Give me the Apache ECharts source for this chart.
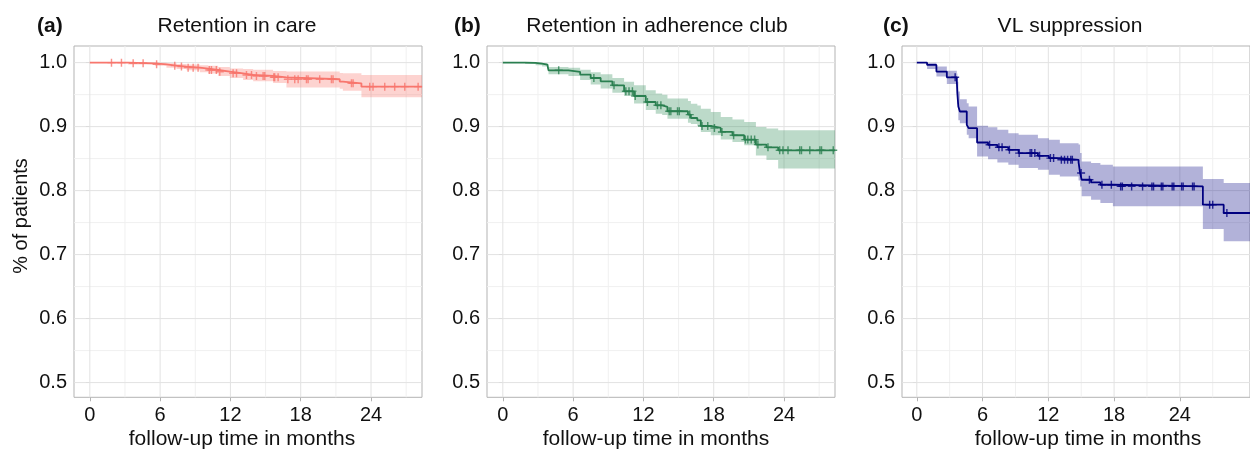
<!DOCTYPE html>
<html><head><meta charset="utf-8">
<script src="https://cdn.jsdelivr.net/npm/echarts@6/dist/echarts.min.js"></script>
<style>html,body{margin:0;padding:0;background:#fff}#c{width:1250px;height:451px}</style>
</head><body><div id="c"></div>
<script>
// ---- tick labels / gridlines ----
const xTicks = [0, 6, 12, 18, 24];
const xMinor = [3, 9, 15, 21, 27];
const yTicks = [0.5, 0.6, 0.7, 0.8, 0.9, 1.0];
const yMinor = [0.55, 0.65, 0.75, 0.85, 0.95];

// ---- (a) Retention in care ----
const careTime  = [0, 3.27, 5.55, 6.54, 7.4, 8.25, 9.39, 10.1, 10.95, 11.95, 13.08, 13.94, 15.64, 16.78, 21.33, 21.6, 23.18];
const careSurv  = [1.0, 0.999, 0.9974, 0.9953, 0.9938, 0.9922, 0.9906, 0.9885, 0.9859, 0.9833, 0.9807, 0.9792, 0.9771, 0.974, 0.9703, 0.9677, 0.9625];
const careUpper = [1.0, 1.0, 1.0, 0.999, 0.998, 0.997, 0.996, 0.995, 0.993, 0.991, 0.990, 0.989, 0.987, 0.986, 0.984, 0.9833, 0.9807];
const careLower = [1.0, 0.997, 0.995, 0.992, 0.990, 0.988, 0.985, 0.983, 0.979, 0.976, 0.973, 0.971, 0.968, 0.961, 0.959, 0.956, 0.9458];
const careCensor = [1.85, 2.7, 3.7, 4.55, 5.7, 7.25, 7.82, 8.39, 8.82, 9.24, 10.2, 10.38, 10.8, 11.09, 12.23, 12.52, 13.37, 13.8, 14.22, 14.79, 14.93, 15.7, 15.78, 16.07, 16.9, 17.49, 17.78, 18.49, 18.63, 19.62, 20.62, 20.76, 22.33, 22.47, 23.89, 24.17, 25.17, 26.02, 26.88, 28.02];

// ---- (b) Retention in adherence club ----
const clubTime  = [0, 1.9, 2.8, 3.35, 3.8, 3.9, 5.6, 6.6, 7.5, 8.35, 9.35, 10.35, 11.2, 12.2, 13.05, 13.6, 14.05, 15.8, 16.05, 16.6, 16.9, 17.75, 18.6, 19.6, 20.6, 21.6, 22.5, 23.5];
const clubSurv  = [1.0, 0.9995, 0.9984, 0.9969, 0.9938, 0.988, 0.9854, 0.9813, 0.976, 0.9708, 0.9646, 0.9552, 0.9479, 0.9385, 0.9333, 0.9307, 0.924, 0.9188, 0.9135, 0.9099, 0.901, 0.898, 0.8917, 0.8865, 0.8797, 0.8719, 0.8677, 0.863];
const clubUpper = [1.0, 1.0, 1.0, 0.999, 0.998, 0.993, 0.992, 0.989, 0.985, 0.982, 0.976, 0.970, 0.9646, 0.9568, 0.9516, 0.950, 0.9438, 0.940, 0.9359, 0.933, 0.9281, 0.923, 0.9151, 0.911, 0.9073, 0.8995, 0.897, 0.8943];
const clubLower = [1.0, 0.998, 0.996, 0.994, 0.990, 0.982, 0.979, 0.973, 0.966, 0.9594, 0.953, 0.9479, 0.936, 0.926, 0.9203, 0.918, 0.9125, 0.906, 0.904, 0.901, 0.8917, 0.8865, 0.880, 0.876, 0.8708, 0.855, 0.848, 0.8344];
const clubCensor = [4.77, 7.77, 9.49, 10.5, 10.77, 11.06, 11.3, 12.34, 13.2, 13.49, 14.2, 14.34, 14.91, 15.06, 15.95, 17.0, 17.49, 18.06, 18.7, 19.7, 20.7, 20.91, 21.2, 21.49, 21.77, 22.63, 23.63, 23.91, 24.34, 25.34, 25.49, 26.2, 27.06, 27.2, 28.2];

// ---- (c) VL suppression ----
const vlTime  = [0, 0.94, 1.79, 2.74, 3.65, 3.70, 3.79, 3.93, 4.56, 4.73, 5.50, 6.50, 7.35, 8.35, 9.29, 11.05, 12.05, 13.05, 14.76, 14.9, 15.04, 15.9, 16.75, 17.89, 26.1, 28.0];
const vlSurv  = [1.0, 0.9964, 0.986, 0.9771, 0.9719, 0.9522, 0.9314, 0.9236, 0.9028, 0.8976, 0.8752, 0.8716, 0.8679, 0.8638, 0.8586, 0.8544, 0.8508, 0.8482, 0.844, 0.8274, 0.817, 0.8128, 0.8092, 0.8066, 0.778, 0.765];
const vlUpper = [1.0, 1.0, 0.9938, 0.9875, 0.983, 0.97, 0.955, 0.9428, 0.9366, 0.9314, 0.9012, 0.899, 0.895, 0.8898, 0.8872, 0.882, 0.8794, 0.8742, 0.872, 0.8586, 0.8456, 0.843, 0.8404, 0.8378, 0.818, 0.8118];
const vlLower = [1.0, 0.99, 0.9782, 0.9667, 0.962, 0.935, 0.91, 0.9054, 0.8872, 0.882, 0.8534, 0.849, 0.844, 0.8404, 0.8352, 0.8326, 0.8248, 0.8222, 0.816, 0.8066, 0.791, 0.7858, 0.7806, 0.7754, 0.74, 0.7207];
const vlCensor = [3.5, 6.64, 7.49, 7.78, 8.45, 9.34, 10.34, 10.48, 10.77, 11.2, 12.19, 12.48, 13.19, 13.48, 13.76, 14.05, 14.19, 14.99, 15.75, 16.89, 17.75, 18.6, 18.75, 19.6, 20.6, 21.45, 21.6, 22.31, 22.45, 23.3, 23.45, 24.16, 24.3, 25.16, 25.3, 26.72, 27.0, 28.29];

const FONT = '"Liberation Sans", Arial, Helvetica, sans-serif';
const X_MIN = -1.35, Y_MIN = 0.477, Y_MAX = 1.026;

const panels = [
  {time: careTime, surv: careSurv, up: careUpper, lo: careLower, cens: careCensor,
   line: '#F8766D', band: 'rgba(248,118,109,0.32)', left: 74, width: 348, xMax: 28.35},
  {time: clubTime, surv: clubSurv, up: clubUpper, lo: clubLower, cens: clubCensor,
   line: '#2A7F50', band: 'rgba(46,139,87,0.32)', left: 487, width: 348, xMax: 28.35},
  {time: vlTime, surv: vlSurv, up: vlUpper, lo: vlLower, cens: vlCensor,
   line: '#000080', band: 'rgba(0,0,128,0.3)', left: 902, width: 372, xMax: 30.4}
];

function survAt(p, t) {
  let v = p.surv[0];
  for (let i = 0; i < p.time.length; i++) if (p.time[i] <= t) v = p.surv[i];
  return v;
}

const grids = [], xAxes = [], yAxes = [], series = [];
panels.forEach((p, i) => {
  grids.push({left: p.left, top: 46, width: p.width, height: 351.3, show: true,
    borderColor: '#b3b3b3', borderWidth: 1, backgroundColor: '#fff'});
  xAxes.push({type: 'value', gridIndex: i, min: X_MIN, max: p.xMax,
    axisLine: {show: false},
    axisTick: {show: true, customValues: xTicks, length: 4, lineStyle: {color: '#b3b3b3'}},
    axisLabel: {customValues: xTicks, margin: 8, fontSize: 20, color: '#111', fontFamily: FONT},
    splitLine: {show: false}});
  yAxes.push({type: 'value', gridIndex: i, min: Y_MIN, max: Y_MAX,
    axisLine: {show: false},
    axisTick: {show: true, customValues: yTicks, length: 4, lineStyle: {color: '#b3b3b3'}},
    axisLabel: {customValues: yTicks, margin: 7, fontSize: 20, color: '#111', fontFamily: FONT,
      formatter: v => v.toFixed(1)},
    splitLine: {show: false}});

  // gridlines
  series.push({type: 'custom', xAxisIndex: i, yAxisIndex: i, z: 1, silent: true, animation: false,
    data: [[0, 0.5]],
    renderItem: (params, api) => {
      const cs = params.coordSys;
      const ch = [];
      const vline = (v, c) => { const x = api.coord([v, 0.5])[0];
        ch.push({type: 'line', shape: {x1: x, y1: cs.y, x2: x, y2: cs.y + cs.height}, style: {stroke: c, lineWidth: 1}}); };
      const hline = (v, c) => { const y = api.coord([0, v])[1];
        ch.push({type: 'line', shape: {x1: cs.x, y1: y, x2: cs.x + cs.width, y2: y}, style: {stroke: c, lineWidth: 1}}); };
      xMinor.forEach(v => vline(v, '#f0f0f0'));
      yMinor.forEach(v => hline(v, '#f0f0f0'));
      xTicks.forEach(v => vline(v, '#e2e2e2'));
      yTicks.forEach(v => hline(v, '#e2e2e2'));
      return {type: 'group', children: ch};
    }});

  // confidence band (stepped polygon)
  series.push({type: 'custom', xAxisIndex: i, yAxisIndex: i, z: 2, silent: true, animation: false,
    data: [[0, 1]],
    renderItem: (params, api) => {
      const n = p.time.length, pts = [];
      for (let k = 0; k < n; k++) {
        const t1 = k + 1 < n ? p.time[k + 1] : p.xMax;
        pts.push(api.coord([p.time[k], p.up[k]]), api.coord([t1, p.up[k]]));
      }
      for (let k = n - 1; k >= 0; k--) {
        const t1 = k + 1 < n ? p.time[k + 1] : p.xMax;
        pts.push(api.coord([t1, p.lo[k]]), api.coord([p.time[k], p.lo[k]]));
      }
      return {type: 'polygon', shape: {points: pts}, style: {fill: p.band}};
    }});

  // KM step line
  const lineData = p.time.map((t, k) => [t, p.surv[k]]);
  lineData.push([p.xMax, p.surv[p.surv.length - 1]]);
  series.push({type: 'line', xAxisIndex: i, yAxisIndex: i, z: 3, step: 'end', showSymbol: false,
    animation: false, silent: true, data: lineData, lineStyle: {color: p.line, width: 1.8}});

  // censor marks
  series.push({type: 'scatter', xAxisIndex: i, yAxisIndex: i, z: 4, animation: false, silent: true,
    symbol: 'path://M-0.9,-5H0.9V-0.9H5V0.9H0.9V5H-0.9V0.9H-5V-0.9H-0.9Z', symbolSize: 8,
    itemStyle: {color: p.line},
    data: p.cens.map(t => [t, survAt(p, t)])});
});

const txt = (x, y, text, extra) => Object.assign({type: 'text', x: x, y: y, silent: true,
  style: Object.assign({text: text, font: '21px ' + FONT, fill: '#111', textAlign: 'center', textVerticalAlign: 'middle'}, extra || {})});

const graphics = [
  txt(37, 26, '(a)', {textAlign: 'left', font: 'bold 21px ' + FONT}),
  txt(237, 26, 'Retention in care'),
  txt(454, 26, '(b)', {textAlign: 'left', font: 'bold 21px ' + FONT}),
  txt(657, 26, 'Retention in adherence club'),
  txt(883, 26, '(c)', {textAlign: 'left', font: 'bold 21px ' + FONT}),
  txt(1070, 26, 'VL suppression'),
  txt(242, 439, 'follow-up time in months'),
  txt(656, 439, 'follow-up time in months'),
  txt(1088, 439, 'follow-up time in months'),
  Object.assign(txt(21, 216, '% of patients', {font: '20px ' + FONT}), {rotation: Math.PI / 2})
];

const chart = echarts.init(document.getElementById('c'), null, {renderer: 'canvas'});
chart.setOption({
  animation: false,
  backgroundColor: '#fff',
  grid: grids, xAxis: xAxes, yAxis: yAxes, series: series,
  graphic: graphics
});
</script>
</body></html>
